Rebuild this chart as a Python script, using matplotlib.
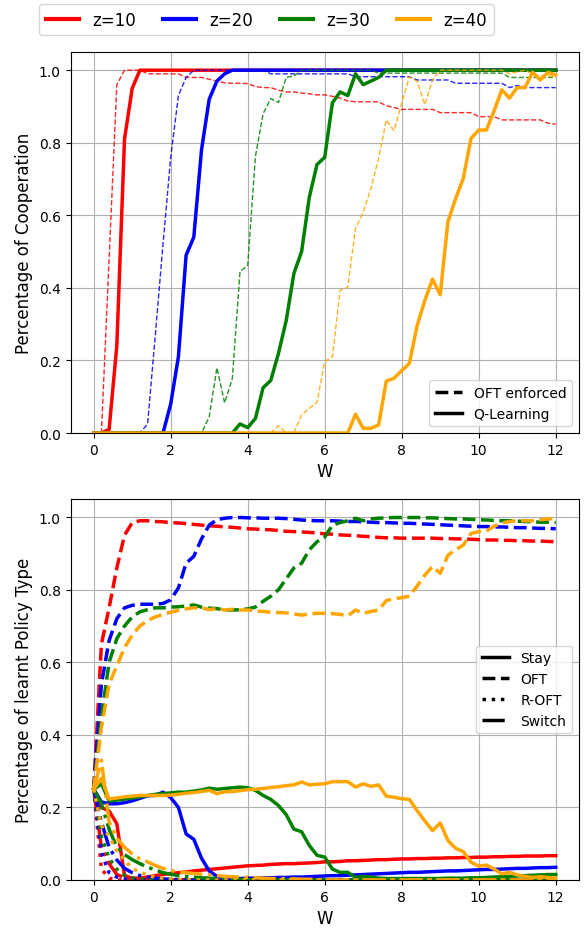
import numpy as np
import matplotlib
matplotlib.use("Agg")
import matplotlib.pyplot as plt
from matplotlib.lines import Line2D

# ---------------- data ----------------
W = np.linspace(0, 12, 61)
z_labels = ["z=10", "z=20", "z=30", "z=40"]
colors = ["red", "blue", "green", "orange"]

# Top panel: percentage of cooperation
q_learning_10 = [0.0, 0.0, 0.01, 0.24, 0.81, 0.95] + [1.0] * 55
oft_enforced_10 = [0.0, 0.0, 0.48, 0.96, 1.0, 1.0, 1.0, 0.99, 0.99, 0.99, 0.99, 0.99,
                   0.98, 0.98, 0.98, 0.975, 0.97, 0.965, 0.964, 0.964, 0.963, 0.955,
                   0.952, 0.952, 0.945, 0.94, 0.94, 0.937, 0.935, 0.932, 0.932, 0.928,
                   0.923, 0.915, 0.913, 0.913, 0.913, 0.913, 0.902, 0.897, 0.892, 0.892,
                   0.892, 0.892, 0.892, 0.883, 0.883, 0.883, 0.883, 0.883, 0.872, 0.872,
                   0.872, 0.863, 0.863, 0.863, 0.863, 0.863, 0.863, 0.854, 0.851]
q_learning_20 = [0.0] * 10 + [0.08, 0.21, 0.49, 0.54, 0.78, 0.92, 0.97, 0.99] + [1.0] * 43
oft_enforced_20 = ([0.0] * 7 + [0.025, 0.27, 0.52, 0.76, 0.93, 0.98] + [1.0] * 10
                   + [0.99] * 11 + [0.982] * 8 + [0.973] * 5 + [0.964] * 7
                   + [0.952, 0.958, 0.952, 0.952, 0.952, 0.952, 0.952])
q_learning_30 = ([0.0] * 19 + [0.025, 0.015, 0.04, 0.125, 0.145, 0.22, 0.31, 0.44, 0.5,
                               0.65, 0.74, 0.76, 0.91, 0.94, 0.93, 0.99, 0.96, 0.97, 0.98]
                 + [1.0] * 23)
oft_enforced_30 = ([0.0] * 15 + [0.045, 0.18, 0.083, 0.15, 0.445, 0.462, 0.762, 0.88,
                                 0.922, 0.911, 0.98, 0.984] + [1.0] * 10
                   + [0.992] * 17 + [0.98] * 7)
q_learning_40 = ([0.0] * 34 + [0.052, 0.013, 0.013, 0.022, 0.143, 0.151, 0.172, 0.192,
                               0.296, 0.365, 0.424, 0.381, 0.582, 0.646, 0.702, 0.812,
                               0.835, 0.835, 0.888, 0.946, 0.923, 0.952, 0.952, 0.994,
                               0.973, 0.994, 0.987])
oft_enforced_40 = ([0.0] * 24 + [0.02, 0.0, 0.0, 0.05, 0.068, 0.085, 0.197, 0.21, 0.393,
                                 0.402, 0.564, 0.609, 0.674, 0.757, 0.863, 0.833, 0.909,
                                 0.982, 0.969, 0.905, 0.973] + [1.0] * 9
                   + [0.99, 0.995, 1.0, 0.99, 0.985, 0.985, 0.98])

# Bottom panel: percentage of learnt policy type
stay_10 = [0.25, 0.2, 0.19, 0.155, 0.012, 0.005, 0.005, 0.008, 0.012, 0.015, 0.018, 0.02,
           0.022, 0.025, 0.027, 0.029, 0.031, 0.033, 0.035, 0.037, 0.039, 0.04, 0.041,
           0.043, 0.044, 0.045, 0.045, 0.046, 0.047, 0.048, 0.05, 0.05, 0.051, 0.053,
           0.053, 0.054, 0.055, 0.056, 0.056, 0.057, 0.058, 0.058, 0.059, 0.059, 0.06,
           0.06, 0.061, 0.061, 0.062, 0.062, 0.063, 0.063, 0.064, 0.064, 0.065, 0.065,
           0.066, 0.066, 0.066, 0.067, 0.067]
oft_10 = [0.25, 0.65, 0.75, 0.86, 0.95, 0.985, 0.99, 0.99, 0.988, 0.987, 0.985, 0.984,
          0.982, 0.98, 0.978, 0.976, 0.975, 0.973, 0.972, 0.97, 0.968, 0.967, 0.966,
          0.965, 0.963, 0.961, 0.96, 0.959, 0.958, 0.956, 0.954, 0.953, 0.951, 0.95,
          0.949, 0.947, 0.946, 0.944, 0.943, 0.943, 0.942, 0.942, 0.942, 0.942, 0.942,
          0.941, 0.941, 0.94, 0.94, 0.939, 0.938, 0.937, 0.937, 0.936, 0.936, 0.935,
          0.935, 0.934, 0.934, 0.933, 0.932]
roft_10 = [0.25, 0.03, 0.005] + [0.0] * 58
switch_10 = [0.25, 0.09, 0.045, 0.015, 0.006, 0.002] + [0.0] * 55

stay_20 = [0.25, 0.215, 0.21, 0.21, 0.213, 0.218, 0.225, 0.232, 0.233, 0.242, 0.227, 0.2,
           0.127, 0.112, 0.06, 0.025, 0.01, 0.005, 0.004, 0.004, 0.005, 0.005, 0.006,
           0.006, 0.007, 0.007, 0.008, 0.008, 0.009, 0.01, 0.011, 0.012, 0.012, 0.013,
           0.014, 0.015, 0.016, 0.017, 0.018, 0.019, 0.02, 0.021, 0.021, 0.022, 0.023,
           0.024, 0.025, 0.025, 0.026, 0.027, 0.028, 0.029, 0.029, 0.03, 0.031, 0.032,
           0.032, 0.033, 0.034, 0.034, 0.035]
oft_20 = [0.25, 0.54, 0.66, 0.72, 0.75, 0.757, 0.76, 0.76, 0.76, 0.762, 0.772, 0.805,
          0.873, 0.892, 0.94, 0.978, 0.993, 0.997, 0.999, 0.999, 0.998, 0.998, 0.997,
          0.997, 0.997, 0.996, 0.994, 0.992, 0.991, 0.99, 0.99, 0.99, 0.989, 0.988,
          0.988, 0.987, 0.986, 0.985, 0.985, 0.984, 0.983, 0.983, 0.982, 0.981, 0.98,
          0.979, 0.978, 0.977, 0.976, 0.975, 0.974, 0.974, 0.973, 0.973, 0.972, 0.971,
          0.971, 0.97, 0.969, 0.969, 0.968]
roft_20 = [0.25, 0.075, 0.02, 0.008, 0.003, 0.001] + [0.0] * 55
switch_20 = [0.25, 0.16, 0.09, 0.055, 0.032, 0.02, 0.012, 0.008, 0.005, 0.003, 0.002,
             0.001] + [0.0] * 49

stay_30 = [0.25, 0.265, 0.218, 0.22, 0.223, 0.226, 0.229, 0.233, 0.236, 0.238, 0.24,
           0.242, 0.242, 0.245, 0.248, 0.253, 0.25, 0.252, 0.254, 0.256, 0.254, 0.247,
           0.233, 0.222, 0.205, 0.18, 0.14, 0.133, 0.095, 0.068, 0.063, 0.03, 0.021,
           0.021, 0.007, 0.01, 0.008, 0.005, 0.004, 0.004, 0.004, 0.004, 0.004, 0.004,
           0.004, 0.004, 0.005, 0.005, 0.005, 0.006, 0.006, 0.007, 0.008, 0.009, 0.01,
           0.011, 0.012, 0.013, 0.014, 0.015, 0.015]
oft_30 = [0.25, 0.45, 0.6, 0.665, 0.7, 0.725, 0.739, 0.745, 0.75, 0.75, 0.752, 0.753,
          0.755, 0.758, 0.752, 0.749, 0.748, 0.744, 0.744, 0.745, 0.747, 0.752, 0.768,
          0.782, 0.8, 0.83, 0.86, 0.873, 0.91, 0.932, 0.945, 0.978, 0.985, 0.99, 0.997,
          0.99, 0.995, 0.997, 0.998, 0.999, 0.999, 0.999, 0.999, 0.998, 0.998, 0.997,
          0.996, 0.995, 0.995, 0.994, 0.993, 0.992, 0.991, 0.99, 0.99, 0.989, 0.988,
          0.987, 0.986, 0.986, 0.985]
roft_30 = [0.25, 0.12, 0.06, 0.03, 0.013, 0.006, 0.003, 0.001] + [0.0] * 53
switch_30 = [0.25, 0.21, 0.14, 0.09, 0.07, 0.056, 0.045, 0.035, 0.028, 0.02, 0.016, 0.012,
             0.01, 0.008, 0.006, 0.005, 0.004, 0.003, 0.002, 0.002, 0.001] + [0.0] * 40

stay_40 = [0.25, 0.28, 0.223, 0.226, 0.229, 0.231, 0.233, 0.233, 0.233, 0.233, 0.234,
           0.236, 0.239, 0.241, 0.244, 0.247, 0.238, 0.243, 0.244, 0.246, 0.249, 0.25,
           0.252, 0.255, 0.257, 0.26, 0.262, 0.27, 0.262, 0.264, 0.265, 0.271, 0.271,
           0.271, 0.256, 0.265, 0.258, 0.262, 0.231, 0.228, 0.224, 0.222, 0.191, 0.163,
           0.136, 0.157, 0.109, 0.087, 0.078, 0.049, 0.038, 0.041, 0.03, 0.017, 0.021,
           0.014, 0.01, 0.007, 0.009, 0.007, 0.005]
oft_40 = [0.25, 0.42, 0.54, 0.59, 0.64, 0.675, 0.7, 0.715, 0.725, 0.732, 0.738, 0.743,
          0.747, 0.75, 0.75, 0.745, 0.748, 0.744, 0.746, 0.744, 0.744, 0.742, 0.74,
          0.738, 0.737, 0.736, 0.733, 0.73, 0.733, 0.735, 0.735, 0.734, 0.732, 0.728,
          0.744, 0.735, 0.74, 0.744, 0.77, 0.775, 0.778, 0.782, 0.81, 0.84, 0.864,
          0.845, 0.895, 0.91, 0.923, 0.955, 0.96, 0.962, 0.975, 0.984, 0.988, 0.99,
          0.99, 0.99, 0.993, 0.995, 0.997]
roft_40 = [0.25, 0.15, 0.12, 0.08, 0.055, 0.032, 0.022, 0.013, 0.008, 0.005, 0.003, 0.002,
           0.001] + [0.0] * 48
switch_40 = [0.25, 0.33, 0.16, 0.115, 0.09, 0.072, 0.058, 0.05, 0.04, 0.032, 0.026, 0.022,
             0.02, 0.018, 0.016, 0.014, 0.012, 0.01, 0.009, 0.008, 0.007, 0.006, 0.005,
             0.004, 0.004, 0.003, 0.003, 0.002, 0.002, 0.001, 0.001] + [0.0] * 30

q_learning = [q_learning_10, q_learning_20, q_learning_30, q_learning_40]
oft_enforced = [oft_enforced_10, oft_enforced_20, oft_enforced_30, oft_enforced_40]
stay = [stay_10, stay_20, stay_30, stay_40]
oft = [oft_10, oft_20, oft_30, oft_40]
roft = [roft_10, roft_20, roft_30, roft_40]
switch = [switch_10, switch_20, switch_30, switch_40]

for group in (q_learning, oft_enforced, stay, oft, roft, switch):
    for s in group:
        assert len(s) == len(W), len(s)

# ---------------- figure ----------------
fig = plt.figure(figsize=(5.85, 9.29), dpi=100)
ax1 = fig.add_axes([0.1207, 0.5328, 0.8687, 0.4101])
ax2 = fig.add_axes([0.1207, 0.0517, 0.8687, 0.4101])

for c, q, o in zip(colors, q_learning, oft_enforced):
    ax1.plot(W, o, color=c, ls="--", lw=1.0, alpha=0.85)
    ax1.plot(W, q, color=c, ls="-", lw=2.5)

for c, s, o, r, sw in zip(colors, stay, oft, roft, switch):
    ax2.plot(W, s, color=c, ls="-", lw=2.5)
    ax2.plot(W, o, color=c, ls="--", lw=2.5)
    ax2.plot(W, r, color=c, ls=":", lw=2.5)
    ax2.plot(W, sw, color=c, ls="-.", lw=2.5)

for ax in (ax1, ax2):
    ax.set_xlim(-0.6, 12.6)
    ax.set_ylim(0, 1.05)
    ax.set_xticks([0, 2, 4, 6, 8, 10, 12])
    ax.set_yticks([0.0, 0.2, 0.4, 0.6, 0.8, 1.0])
    ax.grid(True)
    ax.set_xlabel("W", fontsize=12)

ax1.set_ylabel("Percentage of Cooperation", fontsize=12)
ax2.set_ylabel("Percentage of learnt Policy Type", fontsize=12)

h1 = [Line2D([], [], color="black", ls="--", lw=2.5),
      Line2D([], [], color="black", ls="-", lw=2.5)]
ax1.legend(h1, ["OFT enforced", "Q-Learning"], loc="lower right")

h2 = [Line2D([], [], color="black", ls=ls, lw=2.5) for ls in ["-", "--", ":", "-."]]
ax2.legend(h2, ["Stay", "OFT", "R-OFT", "Switch"], loc="center right")

hz = [Line2D([], [], color=c, lw=3) for c in colors]
fig.legend(hz, z_labels, loc="upper center", ncol=4, fontsize=12,
           bbox_to_anchor=(0.4556, 1.0), borderaxespad=0.3, handlelength=2.0,
           columnspacing=1.6)

fig.savefig("out.png", dpi=100)
